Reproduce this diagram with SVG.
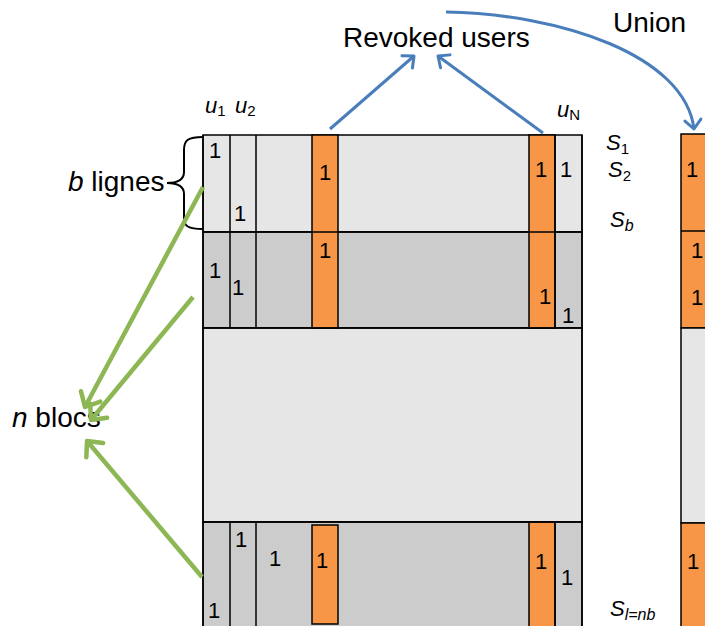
<svg xmlns="http://www.w3.org/2000/svg" width="705" height="626" viewBox="0 0 705 626">
<style>
.lt{fill:#e6e6e6;stroke:#000;stroke-width:1.5}
.dk{fill:#cccccc;stroke:#000;stroke-width:1.5}
.or{fill:#f79646;stroke:#000;stroke-width:1.5}
.ln{stroke:#000;stroke-width:1.5;fill:none}
.one{font-family:"Liberation Sans",Arial,sans-serif;font-size:22px;fill:#000}
.lbl{font-family:"Liberation Sans",Arial,sans-serif;font-size:28px;fill:#000}
.it{font-family:"Liberation Sans",Arial,sans-serif;font-style:italic;fill:#000}
.sub{font-family:"Liberation Sans",Arial,sans-serif;font-size:15px;fill:#000}
.blue{stroke:#4a7ebb;stroke-width:3;fill:none}
.green{stroke:#8db654;stroke-width:4.5;fill:none}
</style>
<defs>
<marker id="ab" markerUnits="userSpaceOnUse" markerWidth="24" markerHeight="24" refX="12" refY="12" orient="auto" viewBox="0 0 24 24">
<path d="M3,4 L12,12 L3,20" fill="none" stroke="#4a7ebb" stroke-width="3" stroke-linecap="round" stroke-linejoin="round"/>
</marker>
<marker id="ag" markerUnits="userSpaceOnUse" markerWidth="30" markerHeight="30" refX="15" refY="15" orient="auto" viewBox="0 0 30 30">
<path d="M3,4 L15,15 L3,26" fill="none" stroke="#8db654" stroke-width="4.5" stroke-linecap="round" stroke-linejoin="round"/>
</marker>
</defs>
<rect width="705" height="626" fill="#fff"/>

<g id="matrix">
<rect class="lt" x="203" y="135" width="379" height="97"/>
<rect class="dk" x="203" y="232" width="379" height="96"/>
<rect class="lt" x="203" y="328" width="379" height="194"/>
<rect class="dk" x="203" y="522" width="379" height="110"/>
<rect class="or" x="312" y="135" width="26" height="193"/>
<rect class="or" x="529" y="135" width="26" height="193"/>
<rect class="or" x="312" y="525" width="26" height="99"/>
<rect class="or" x="529" y="522" width="26" height="110"/>
<path class="ln" d="M230,135V328M256,135V328M555,135V328M230,522V626M256,522V626M555,522V626M203,232H582M203,328H582M203,522H582M203,135V626M582,135V626"/>
</g>

<g id="union-column">
<rect class="or" x="681" y="134" width="30" height="194"/>
<rect class="lt" x="681" y="328" width="30" height="195"/>
<rect class="or" x="681" y="523" width="30" height="110"/>
<path class="ln" d="M681,231H705"/>
</g>

<g id="ones">
<text class="one" x="209" y="158">1</text>
<text class="one" x="234" y="221">1</text>
<text class="one" x="319" y="180">1</text>
<text class="one" x="535" y="177">1</text>
<text class="one" x="560" y="177">1</text>
<text class="one" x="209" y="278">1</text>
<text class="one" x="232" y="295">1</text>
<text class="one" x="319" y="258">1</text>
<text class="one" x="539" y="304">1</text>
<text class="one" x="562" y="323">1</text>
<text class="one" x="235" y="547">1</text>
<text class="one" x="269" y="566">1</text>
<text class="one" x="316" y="568">1</text>
<text class="one" x="208" y="618">1</text>
<text class="one" x="535" y="569">1</text>
<text class="one" x="561" y="585">1</text>
<text class="one" x="686" y="177">1</text>
<text class="one" x="691" y="258">1</text>
<text class="one" x="691" y="305">1</text>
<text class="one" x="687" y="569">1</text>
</g>

<g id="col-labels">
<text x="205" y="113"><tspan class="it" font-size="22">u</tspan><tspan class="sub" dy="3">1</tspan></text>
<text x="235" y="113"><tspan class="it" font-size="22">u</tspan><tspan class="sub" dy="3">2</tspan></text>
<text x="557" y="117"><tspan class="it" font-size="22">u</tspan><tspan class="sub" dy="3">N</tspan></text>
</g>

<g id="row-labels">
<text x="606" y="150"><tspan class="it" font-size="22">S</tspan><tspan class="sub" dy="4">1</tspan></text>
<text x="608" y="177"><tspan class="it" font-size="22">S</tspan><tspan class="sub" dy="4">2</tspan></text>
<text x="610" y="227"><tspan class="it" font-size="22">S</tspan><tspan class="it" font-size="16" dy="4">b</tspan></text>
<text x="610" y="616"><tspan class="it" font-size="22">S</tspan><tspan class="it" font-size="16" dy="4">l=nb</tspan></text>
</g>

<g id="revoked-users"><text class="lbl" x="343" y="47" font-size="30">Revoked users</text></g>
<g id="union"><text class="lbl" x="613" y="32" font-size="30">Union</text></g>
<g id="b-lignes"><text class="lbl" x="68" y="191"><tspan font-style="italic">b</tspan> lignes</text></g>
<g id="n-blocs"><text class="lbl" x="12" y="427"><tspan font-style="italic">n</tspan> blocs</text></g>

<g id="brace">
<path d="M203,137 C188,137 184,140 184,150 L184,172 C184,180 178,183 167,183 C178,183 184,186 184,194 L184,218 C184,226 188,229 203,229" fill="none" stroke="#000" stroke-width="2"/>
</g>

<g id="connectors">
<path class="blue" d="M330,129 L414,56" marker-end="url(#ab)"/>
<path class="blue" d="M543,133 L438,56" marker-end="url(#ab)"/>
<path class="blue" d="M446,12 C560,14 685,55 694,129" marker-end="url(#ab)"/>
<path class="green" d="M203,187 L85,407" marker-end="url(#ag)"/>
<path class="green" d="M193,297 L91,420" marker-end="url(#ag)"/>
<path class="green" d="M202,577 L87,441" marker-end="url(#ag)"/>
</g>
</svg>
